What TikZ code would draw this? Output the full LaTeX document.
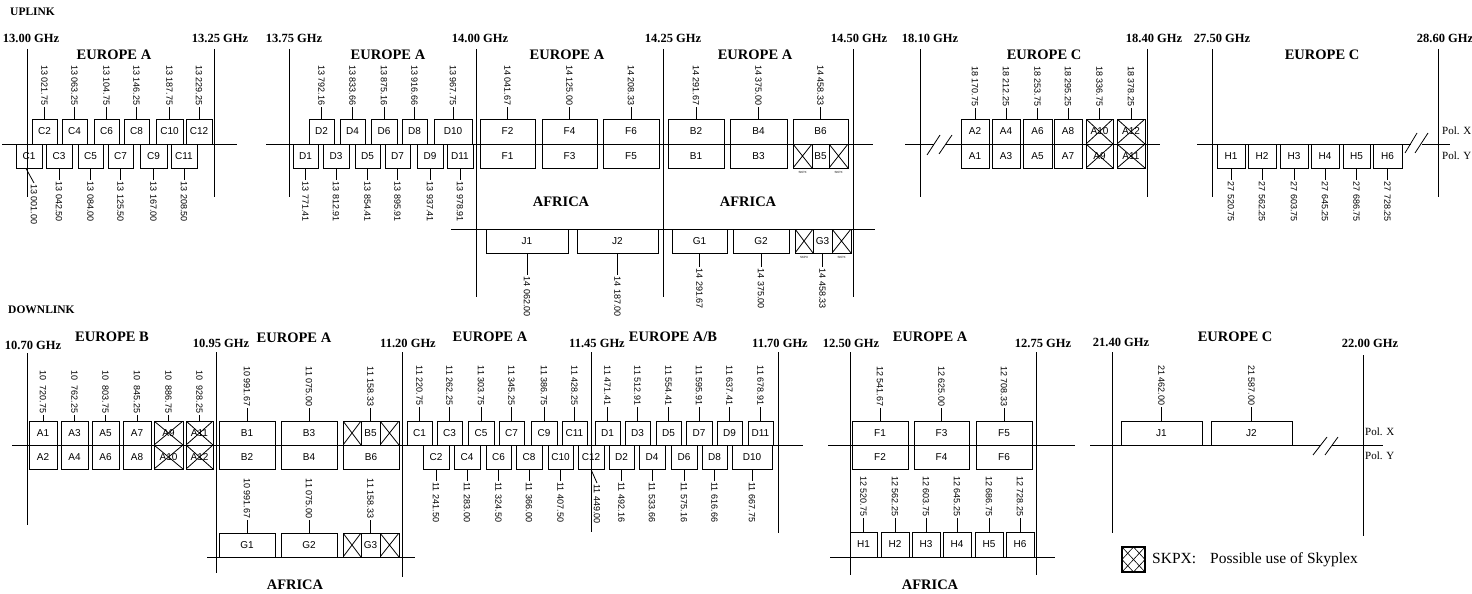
\documentclass[tikz,border=0pt]{standalone}
\usepackage{fontspec}
\setmainfont{Liberation Serif}
\setsansfont{Liberation Sans}
\newcommand{\chb}[7][bx]{\node[#1, minimum width={#4-#3}, minimum height={#6-#5}] (#2) at ({(#3+#4)/2},{(#5+#6)/2}) {#7};}
\newcommand{\ulab}[3][12]{\node[fl,anchor=east] (u#2) at ([yshift=#1pt]#2.north) {#3};\draw[ln] (#2.north) -- (u#2.east);}
\newcommand{\llab}[3][12]{\node[fl,anchor=west] (l#2) at ([yshift=-#1pt]#2.south) {#3};\draw[ln] (#2.south) -- (l#2.west);}
\tikzset{
 hz/.style={font=\bfseries\fontsize{12.5}{13}\selectfont, inner sep=0},
 reg/.style={font=\bfseries\fontsize{14.5}{15}\selectfont, inner sep=0},
 ttl/.style={font=\bfseries\fontsize{11.5}{12}\selectfont, inner sep=0, anchor=west},
 ln/.style={line width=0.8pt},
 bx/.style={draw, line width=0.9pt, inner sep=0, font=\sffamily\fontsize{10}{10}\selectfont},
 xb/.style={bx, path picture={\draw[ln] (path picture bounding box.north west) -- (path picture bounding box.south east) (path picture bounding box.north east) -- (path picture bounding box.south west);}},
 fl/.style={rotate=-90, font=\sffamily\fontsize{9}{9}\selectfont, inner sep=1pt},
 pol/.style={font=\fontsize{11}{11}\selectfont, inner sep=0, anchor=west},
 sk/.style={font=\sffamily\fontsize{3}{3}\selectfont, inner sep=0},
}
\begin{document}
\begin{tikzpicture}[x=1pt,y=-1pt]
\useasboundingbox (0,0) rectangle (1472,594);
% ================= UPLINK =================
\node[ttl] (tup) at (10,12) {UPLINK};
% ---- band 13.00-13.25
\node[hz] (f1300) at (31,38) {13.00 GHz};
\node[hz] (f1325) at (220,38) {13.25 GHz};
\node[reg] (r1) at (114,55) {EUROPE A};
\draw[ln] (27,49) -- (27,197);
\draw[ln] (214,49) -- (214,197);
\draw[ln] (2,144) -- (237,144);
\foreach \n/\a/\b/\t in {C2/32/57/13 021.75, C4/62/87/13 063.25, C6/94/119/13 104.75, C8/124/149/13 146.25, C10/156/183/13 187.75, C12/186/212/13 229.25}
 {\chb{u\n}{\a}{\b}{119}{144}{\n}\ulab{u\n}{\t}}
\foreach \n/\a/\b/\t in {C3/46/72/13 042.50, C5/78/103/13 084.00, C7/108/133/13 125.50, C9/140/167/13 167.00, C11/171/197/13 208.50}
 {\chb{u\n}{\a}{\b}{144}{168}{\n}\llab{u\n}{\t}}
\chb{uC1}{16}{42}{144}{168}{C1}
\node[fl,anchor=west] (luC1) at (34,183) {13 001.00};
\draw[ln] ([xshift=-3pt]uC1.south) -- (luC1.west);
% ---- band 13.75-14.00
\node[hz] (f1375) at (294,38) {13.75 GHz};
\node[reg] (r2) at (388,55) {EUROPE A};
\draw[ln] (289,49) -- (289,197);
\draw[ln] (266,144) -- (873,144);
\foreach \n/\a/\b/\t in {D2/309/334/13 792.16, D4/340/365/13 833.66, D6/371/397/13 875.16, D8/402/427/13 916.66, D10/434/472/13 967.75}
 {\chb{u\n}{\a}{\b}{119}{144}{\n}\ulab{u\n}{\t}}
\foreach \n/\a/\b/\t in {D1/293/318/13 771.41, D3/323/349/13 812.91, D5/355/380/13 854.41, D7/385/410/13 895.91, D9/417/443/13 937.41, D11/447/473/13 978.91}
 {\chb{u\n}{\a}{\b}{144}{168}{\n}\llab{u\n}{\t}}
% ---- band 14.00-14.25
\node[hz] (f1400) at (480,38) {14.00 GHz};
\node[reg] (r3) at (567,55) {EUROPE A};
\draw[ln] (476,49) -- (476,297);
\foreach \n/\m/\a/\b/\t in {F2/F1/480/535/14 041.67, F4/F3/542/597/14 125.00, F6/F5/603/659/14 208.33}
 {\chb{u\n}{\a}{\b}{119}{144}{\n}\ulab{u\n}{\t}\chb{u\m}{\a}{\b}{144}{168}{\m}}
\node[reg] (ra1) at (561,202) {AFRICA};
\draw[ln] (451,229) -- (875,229);
\foreach \n/\a/\b/\t in {J1/486/568/14 062.00, J2/577/658/14 187.00}
 {\chb{u\n}{\a}{\b}{229}{253}{\n}\llab[22]{u\n}{\t}}
% ---- band 14.25-14.50
\node[hz] (f1425) at (673,38) {14.25 GHz};
\node[reg] (r4) at (755,55) {EUROPE A};
\node[hz] (f1450) at (859,38) {14.50 GHz};
\draw[ln] (663,49) -- (663,297);
\draw[ln] (853,49) -- (853,297);
\foreach \n/\m/\a/\b/\t in {B2/B1/668/724/14 291.67, B4/B3/730/787/14 375.00}
 {\chb{u\n}{\a}{\b}{119}{144}{\n}\ulab{u\n}{\t}\chb{u\m}{\a}{\b}{144}{168}{\m}}
\chb{uB6}{793}{848}{119}{144}{B6}\ulab{uB6}{14 458.33}
\chb[xb]{uXa}{793}{812}{144}{168}{}
\chb{uB5}{812}{829}{144}{168}{B5}
\chb[xb]{uXb}{829}{848}{144}{168}{}
\node[sk] (sa) at ([yshift=-4pt]uXa.south) {SKPX};
\node[sk] (sb) at ([yshift=-4pt]uXb.south) {SKPX};
\node[reg] (ra2) at (748,202) {AFRICA};
\foreach \n/\a/\b/\t in {G1/672/727/14 291.67, G2/733/789/14 375.00}
 {\chb{u\n}{\a}{\b}{229}{253}{\n}\llab[14]{u\n}{\t}}
\chb[xb]{uXc}{795}{813}{229}{253}{}
\chb{uG3}{813}{832}{229}{253}{G3}\llab[14]{uG3}{14 458.33}
\chb[xb]{uXd}{832}{851}{229}{253}{}
\node[sk] (sc) at ([yshift=-4pt]uXc.south) {SKPX};
\node[sk] (sd) at ([yshift=-4pt]uXd.south) {SKPX};
% ---- band 18.10-18.40
\node[hz] (f1810) at (930,38) {18.10 GHz};
\node[reg] (r5) at (1044,55) {EUROPE C};
\node[hz] (f1840) at (1154,38) {18.40 GHz};
\draw[ln] (920,49) -- (920,197);
\draw[ln] (1147,49) -- (1147,197);
\draw[ln] (905,144) -- (934,144);
\draw[ln] (946,144) -- (1160,144);
\draw[ln] (927,155) -- (940,135);
\draw[ln] (939,154) -- (952,135);
\foreach \n/\m/\a/\b/\t in {A2/A1/961/989/18 170.75, A4/A3/992/1020/18 212.25, A6/A5/1023/1052/18 253.75, A8/A7/1054/1082/18 295.25}
 {\chb{u\n}{\a}{\b}{119}{144}{\n}\ulab[11]{u\n}{\t}\chb{u\m}{\a}{\b}{144}{168}{\m}}
\foreach \n/\m/\a/\b/\t in {A10/A9/1086/1113/18 336.75, A12/A11/1117/1145/18 378.25}
 {\chb[xb]{u\n}{\a}{\b}{119}{144}{\n}\ulab[11]{u\n}{\t}\chb[xb]{u\m}{\a}{\b}{144}{168}{\m}}
% ---- band 27.50-28.60
\node[hz] (f2750) at (1222,38) {27.50 GHz};
\node[reg] (r6) at (1322,55) {EUROPE C};
\node[hz] (f2860) at (1445,38) {28.60 GHz};
\draw[ln] (1212,49) -- (1212,197);
\draw[ln] (1438,49) -- (1438,197);
\draw[ln] (1197,144) -- (1411,144);
\draw[ln] (1422,144) -- (1450,144);
\draw[ln] (1405,153) -- (1417,133);
\draw[ln] (1415,153) -- (1428,133);
\foreach \n/\a/\b/\t in {H1/1217/1245/27 520.75, H2/1248/1276/27 562.25, H3/1280/1308/27 603.75, H4/1311/1339/27 645.25, H5/1343/1370/27 686.75, H6/1373/1402/27 728.25}
 {\chb{u\n}{\a}{\b}{144}{168}{\n}\llab{u\n}{\t}}
\node[pol] (px1) at (1442,131) {Pol. X};
\node[pol] (py1) at (1442,156) {Pol. Y};
% ================= DOWNLINK =================
\node[ttl] (tdn) at (8,310) {DOWNLINK};
% ---- band 10.70-10.95
\node[hz] (f1070) at (33,345) {10.70 GHz};
\node[reg] (r7) at (112,337) {EUROPE B};
\node[hz] (f1095) at (221,343) {10.95 GHz};
\draw[ln] (27,353) -- (27,525);
\draw[ln] (216,352) -- (216,573);
\draw[ln] (12,445) -- (803,445);
\foreach \n/\m/\a/\b/\t in {A1/A2/29/57/720.75, A3/A4/61/88/762.25, A5/A6/92/119/803.75, A7/A8/123/151/845.25}
 {\chb{d\n}{\a}{\b}{421}{445}{\n}\ulab[6]{d\n}{10\hspace{5pt}\t}\chb{d\m}{\a}{\b}{445}{469}{\m}}
\foreach \n/\m/\a/\b/\t in {A9/A10/154/183/886.75, A11/A12/186/213/928.25}
 {\chb[xb]{d\n}{\a}{\b}{421}{445}{\n}\ulab[6]{d\n}{10\hspace{5pt}\t}\chb[xb]{d\m}{\a}{\b}{445}{469}{\m}}
% ---- band 10.95-11.20
\node[reg] (r8) at (294,338) {EUROPE A};
\node[hz] (f1120) at (408,343) {11.20 GHz};
\draw[ln] (402,352) -- (402,577);
\foreach \n/\m/\a/\b/\t in {B1/B2/219/275/10 991.67, B3/B4/281/337/11 075.00}
 {\chb{d\n}{\a}{\b}{421}{445}{\n}\ulab[13]{d\n}{\t}\chb{d\m}{\a}{\b}{445}{469}{\m}}
\chb[xb]{dXa}{343}{361}{421}{445}{}
\chb{dB5}{361}{380}{421}{445}{B5}\ulab[13]{dB5}{11 158.33}
\chb[xb]{dXb}{380}{399}{421}{445}{}
\chb{dB6}{343}{399}{445}{469}{B6}
\draw[ln] (207,557) -- (415,557);
\foreach \n/\a/\b/\t in {G1/219/275/10 991.67, G2/281/337/11 075.00}
 {\chb{d\n}{\a}{\b}{533}{557}{\n}\ulab[13]{d\n}{\t}}
\chb[xb]{dXc}{343}{361}{533}{557}{}
\chb{dG3}{361}{380}{533}{557}{G3}\ulab[13]{dG3}{11 158.33}
\chb[xb]{dXd}{380}{399}{533}{557}{}
\node[reg] (ra3) at (295,585) {AFRICA};
% ---- band 11.20-11.45-11.70
\node[reg] (r9) at (490,337) {EUROPE A};
\node[hz] (f1145) at (597,343) {11.45 GHz};
\node[reg] (r10) at (673,337) {EUROPE A/B};
\node[hz] (f1170) at (780,343) {11.70 GHz};
\draw[ln] (591,352) -- (591,532);
\draw[ln] (778,352) -- (778,533);
\foreach \n/\a/\b/\t in {C1/407/432/11 220.75, C3/437/462/11 262.25, C5/468/494/11 303.75, C7/499/524/11 345.25, C9/531/557/11 386.75, C11/562/587/11 428.25, D1/595/620/11 471.41, D3/625/650/11 512.91, D5/656/681/11 554.41, D7/686/712/11 595.91, D9/717/742/11 637.41, D11/748/773/11 678.91}
 {\chb{d\n}{\a}{\b}{421}{445}{\n}\ulab[14]{d\n}{\t}}
\foreach \n/\a/\b/\t in {C2/423/449/11 241.50, C4/454/480/11 283.00, C6/486/511/11 324.50, C8/516/542/11 366.00, C10/548/573/11 407.50, D2/609/634/11 492.16, D4/639/665/11 533.66, D6/671/697/11 575.16, D8/702/727/11 616.66, D10/732/772/11 667.75}
 {\chb{d\n}{\a}{\b}{445}{469}{\n}\llab[12]{d\n}{\t}}
\chb{dC12}{578}{604}{445}{469}{C12}
\node[fl,anchor=west] (ldC12) at (597,483) {11 449.00};
\draw[ln] (dC12.south) -- (ldC12.west);
% ---- band 12.50-12.75
\node[hz] (f1250) at (851,343) {12.50 GHz};
\node[reg] (r11) at (930,337) {EUROPE A};
\node[hz] (f1275) at (1043,343) {12.75 GHz};
\draw[ln] (850,352) -- (850,575);
\draw[ln] (1036,352) -- (1036,575);
\draw[ln] (828,445) -- (1075,445);
\foreach \n/\m/\a/\b/\t in {F1/F2/852/908/12 541.67, F3/F4/914/969/12 625.00, F5/F6/976/1032/12 708.33}
 {\chb{d\n}{\a}{\b}{421}{445}{\n}\ulab[13]{d\n}{\t}\chb{d\m}{\a}{\b}{445}{469}{\m}}
\draw[ln] (830,557) -- (1055,557);
\foreach \n/\a/\b/\t in {H1/850/877/12 520.75, H2/881/909/12 562.25, H3/912/940/12 603.75, H4/943/971/12 645.25, H5/975/1003/12 686.75, H6/1006/1034/12 728.25}
 {\chb{d\n}{\a}{\b}{532}{557}{\n}\ulab[14]{d\n}{\t}}
\node[reg] (ra4) at (930,585) {AFRICA};
% ---- band 21.40-22.00
\node[hz] (f2140) at (1121,342) {21.40 GHz};
\node[reg] (r12) at (1235,337) {EUROPE C};
\node[hz] (f2200) at (1370,343) {22.00 GHz};
\draw[ln] (1112,352) -- (1112,533);
\draw[ln] (1363,355) -- (1363,536);
\draw[ln] (1090,445) -- (1321,445);
\draw[ln] (1332,445) -- (1383,445);
\draw[ln] (1313,455) -- (1327,437);
\draw[ln] (1325,455) -- (1338,437);
\foreach \n/\a/\b/\t in {J1/1121/1202/21 462.00, J2/1211/1292/21 587.00}
 {\chb{d\n}{\a}{\b}{421}{445}{\n}\ulab[14]{d\n}{\t}}
\node[pol] (px2) at (1365,432) {Pol. X};
\node[pol] (py2) at (1365,456) {Pol. Y};
% ---- legend
\node[draw, line width=2pt, minimum width=23, minimum height=25, inner sep=0,
  path picture={\draw[line width=0.6pt] (path picture bounding box.north west) -- (path picture bounding box.south east) (path picture bounding box.north east) -- (path picture bounding box.south west) (path picture bounding box.north) -- (path picture bounding box.east) -- (path picture bounding box.south) -- (path picture bounding box.west) -- cycle;}] (leg) at (1133.5,559.5) {};
\node[font=\fontsize{15.5}{16}\selectfont, anchor=west, inner sep=0] (legt) at (1152,560) {SKPX:\hspace{14pt}Possible use of Skyplex};
\end{tikzpicture}
\end{document}
